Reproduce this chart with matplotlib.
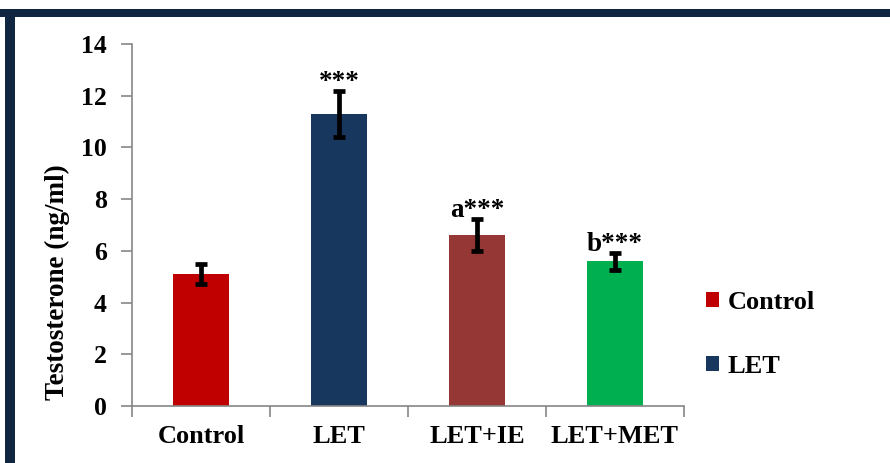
import matplotlib
matplotlib.use("Agg")
import matplotlib.pyplot as plt
from matplotlib.patches import Patch, Rectangle

# Data
groups = ["Control", "LET", "LET+IE", "LET+MET"]
means = [5.1, 11.3, 6.6, 5.6]
sems = [0.4, 0.88, 0.62, 0.33]
marks = ["", "***", "a***", "b***"]
colors = ["#C00000", "#17375E", "#953735", "#00B050"]
legend_groups = ["Control", "LET"]
yticks = [0, 2, 4, 6, 8, 10, 12, 14]

plt.rcParams["font.family"] = ["Liberation Serif", "DejaVu Serif"]
plt.rcParams["font.weight"] = "bold"

fig = plt.figure(figsize=(8.9, 4.63), dpi=100)
ax = fig.add_axes([0.1483, 0.1231, 0.6202, 0.7819])

x = list(range(len(groups)))
ax.bar(x, means, width=0.405, color=colors, zorder=2)
ax.errorbar(x, means, yerr=sems, fmt="none", ecolor="black",
            elinewidth=3.4, capsize=4.5, capthick=3.4, zorder=3)

for xi, m, s, t in zip(x, means, sems, marks):
    if t:
        ax.text(xi, m + s + 0.08, t, ha="center", va="baseline",
                fontsize=19.5, fontweight="bold")

ax.set_xlim(-0.5, len(groups) - 0.5)
ax.set_ylim(0, 14)
ax.set_yticks(yticks)
ax.set_yticklabels([str(v) for v in yticks])
ax.set_xticks([i - 0.5 for i in range(len(groups) + 1)])
ax.set_xticklabels([])
ax.set_xticks(x, minor=True)
ax.set_xticklabels(groups, minor=True)
ax.tick_params(axis="x", which="minor", length=0, pad=14, labelsize=19)
ax.tick_params(axis="x", which="major", length=8, width=1.2, color="#868686")
ax.tick_params(axis="y", length=8, width=1.2, color="#868686", labelsize=18.5, pad=10)
for side in ["top", "right"]:
    ax.spines[side].set_visible(False)
for side in ["left", "bottom"]:
    ax.spines[side].set_color("#868686")
    ax.spines[side].set_linewidth(1.2)

fig.text(0.065, 0.391, "Testosterone (ng/ml)", rotation=90, ha="center", va="center",
         fontsize=19.5, fontweight="bold")

handles = [Patch(facecolor=c, edgecolor="none") for c in colors[:2]]
fig.legend(handles, legend_groups, loc="upper left",
           bbox_to_anchor=(0.781, 0.395), frameon=False, fontsize=19,
           handlelength=0.52, handleheight=0.52, handletextpad=0.3,
           labelspacing=1.55, borderaxespad=0)

# frame bars along the top and left of the figure
fig.add_artist(Rectangle((0, 1 - 17 / 463), 1, 8 / 463, transform=fig.transFigure,
                         facecolor="#10253F", edgecolor="none"))
fig.add_artist(Rectangle((5 / 890, 0), 10 / 890, 1 - 9 / 463, transform=fig.transFigure,
                         facecolor="#10253F", edgecolor="none"))

fig.savefig("out.png", dpi=100)
